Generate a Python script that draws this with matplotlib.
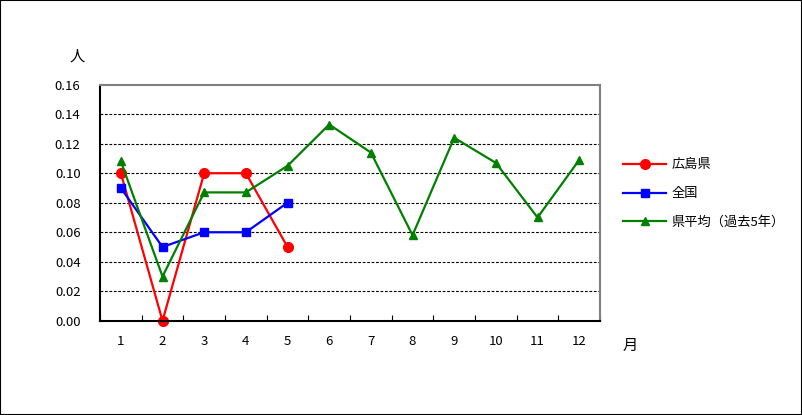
import matplotlib.pyplot as plt
from matplotlib.patches import Rectangle

plt.rcParams['font.family'] = ['Noto Sans CJK JP', 'DejaVu Sans']

# 月別データ
months = [1, 2, 3, 4, 5, 6, 7, 8, 9, 10, 11, 12]
hiroshima = [0.10, 0.00, 0.10, 0.10, 0.05]
zenkoku = [0.09, 0.05, 0.06, 0.06, 0.08]
ken_avg = [0.108, 0.030, 0.087, 0.087, 0.105, 0.133, 0.114, 0.058, 0.124, 0.107, 0.070, 0.109]
y_ticks = [0.00, 0.02, 0.04, 0.06, 0.08, 0.10, 0.12, 0.14, 0.16]

fig = plt.figure(figsize=(8.02, 4.15), dpi=100)
ax = fig.add_axes([0.1247, 0.227, 0.6235, 0.569])

ax.plot(months[:5], hiroshima, color='#ff0000', lw=1.6, marker='o', ms=7, label='広島県')
ax.plot(months[:5], zenkoku, color='#0000ff', lw=1.6, marker='s', ms=5.5, label='全国')
ax.plot(months, ken_avg, color='#008000', lw=1.6, marker='^', ms=6, label='県平均（過去5年）')

ax.set_xlim(0.5, 12.5)
ax.set_ylim(0, 0.16)
ax.set_yticks(y_ticks)
ax.set_yticklabels(['%.2f' % v for v in y_ticks])
ax.set_xticks(months)
ax.set_xticks([m + 0.5 for m in range(0, 13)], minor=True)
ax.tick_params(axis='x', which='major', length=0, pad=10, labelsize=9.5)
ax.tick_params(axis='x', which='minor', direction='in', length=4, width=0.8)
ax.tick_params(axis='y', length=0, pad=14, labelsize=9.5)

for v in y_ticks[1:-1]:
    ax.axhline(v, color='black', lw=0.8, ls=(0, (2.5, 1.5)), zorder=0)

ax.spines['left'].set_color('black')
ax.spines['bottom'].set_color('black')
ax.spines['top'].set_color('#808080')
ax.spines['right'].set_color('#808080')
for s in ax.spines.values():
    s.set_linewidth(1.5)

for ln in ax.lines:
    ln.set_clip_on(False)

fig.text(0.096, 0.865, '人', fontsize=11, ha='center', va='center')
fig.text(0.786, 0.168, '月', fontsize=11, ha='center', va='center')

ax.legend(loc='upper left', bbox_to_anchor=(1.035, 0.71), frameon=False, fontsize=9.5,
          handlelength=3.3, handletextpad=0.4, labelspacing=1.2, borderaxespad=0)

fig.patches.append(Rectangle((0, 0), 1, 1, transform=fig.transFigure, fill=False,
                             edgecolor='black', lw=1.5))

plt.savefig('out.png', dpi=100)
